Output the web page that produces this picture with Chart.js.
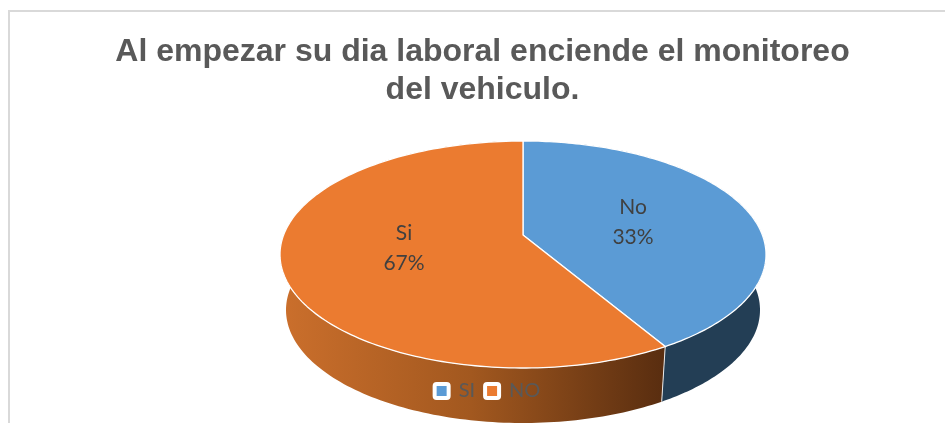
<!DOCTYPE html>
<html>
<head>
<meta charset="utf-8">
<script src="https://cdn.jsdelivr.net/npm/chart.js@4"></script>
<style>
html,body{margin:0;padding:0;background:#fff;overflow:hidden}
#frame{position:absolute;left:8px;top:10px;right:-4px;bottom:-4px;border:2px solid #d9d9d9;box-sizing:border-box}
#wrap{position:absolute;left:0;top:0;width:945px;height:423px}
</style>
</head>
<body>
<div id="frame"></div>
<div id="wrap"><canvas id="c" width="945" height="423"></canvas></div>
<script>
const titleLines = ['Al empezar su dia laboral enciende el monitoreo', 'del vehiculo.'];
const legendLabels = ['SI', 'NO'];
const sliceNames = ['No', 'Si'];
const sliceValues = [33, 67];
const sliceColors = ['#5B9BD5', '#EB7B30'];

// Perspective view of the pie (top ellipse, bottom ellipse, apex, rim foreshortening)
const top3d = {cx: 523, cy: 254.5, rx: 243, ry: 113.5, ax: 523, ay: 235, s: 1.83};
const low3d = {cx: 523, cy: 310, rx: 237, ry: 113};
const labelAt = [[633, 222], [404, 248]];

const rimAngle = a => {
  const t = (a + Math.PI / 2) / 2;
  return 2 * Math.atan2(top3d.s * Math.sin(t), Math.cos(t));
};
const rimPoint = (e, phi) => [e.cx + e.rx * Math.sin(phi), e.cy - e.ry * Math.cos(phi)];

Chart.ArcElement.prototype.draw = function (ctx) {
  const a0 = rimAngle(this.startAngle), a1 = rimAngle(this.endAngle);
  ctx.save();
  ctx.beginPath();
  ctx.moveTo(top3d.ax, top3d.ay);
  for (let i = 0; i <= 160; i++) {
    const p = rimPoint(top3d, a0 + (a1 - a0) * i / 160);
    ctx.lineTo(p[0], p[1]);
  }
  ctx.closePath();
  ctx.fillStyle = this.options.backgroundColor;
  ctx.fill();
  ctx.lineJoin = 'round';
  ctx.lineWidth = 1.3;
  ctx.strokeStyle = '#ffffff';
  ctx.stroke();
  ctx.restore();
};

const pie3d = {
  id: 'pie3d',
  afterLayout(chart) {
    chart.legend.left += 5;
    chart.legend.right += 5;
  },
  beforeDatasetsDraw(chart) {
    const ctx = chart.ctx;
    const arcs = chart.getDatasetMeta(0).data;
    const fills = [
      () => '#233E55',
      () => {
        const g = ctx.createLinearGradient(281, 0, 661, 0);
        g.addColorStop(0, '#CB6F2C');
        g.addColorStop(0.5, '#A2581F');
        g.addColorStop(1, '#5A2E10');
        return g;
      }
    ];
    arcs.forEach((arc, k) => {
      const a0 = rimAngle(arc.startAngle), a1 = rimAngle(arc.endAngle);
      ctx.beginPath();
      for (let i = 0; i <= 160; i++) {
        const p = rimPoint(top3d, a0 + (a1 - a0) * i / 160);
        ctx[i ? 'lineTo' : 'moveTo'](p[0], p[1]);
      }
      for (let i = 160; i >= 0; i--) {
        const p = rimPoint(low3d, a0 + (a1 - a0) * i / 160);
        ctx.lineTo(p[0], p[1]);
      }
      ctx.closePath();
      ctx.fillStyle = fills[k]();
      ctx.fill();
    });
    const phi = rimAngle(arcs[0].endAngle);
    const u = rimPoint(top3d, phi), l = rimPoint(low3d, phi);
    ctx.beginPath();
    ctx.moveTo(u[0], u[1]);
    ctx.lineTo(l[0], l[1]);
    ctx.strokeStyle = '#e8e8e8';
    ctx.lineWidth = 1;
    ctx.stroke();
  },
  afterDatasetsDraw(chart) {
    const ctx = chart.ctx;
    const total = sliceValues.reduce((a, b) => a + b, 0);
    ctx.save();
    ctx.font = '21px Lato';
    ctx.fillStyle = '#404040';
    ctx.textAlign = 'center';
    ctx.textBaseline = 'middle';
    sliceNames.forEach((n, i) => {
      ctx.fillText(n, labelAt[i][0], labelAt[i][1] - 15);
      ctx.fillText(Math.round(sliceValues[i] / total * 100) + '%', labelAt[i][0], labelAt[i][1] + 15);
    });
    ctx.restore();
    chart.legend.draw();
  }
};

new Chart(document.getElementById('c'), {
  type: 'pie',
  data: {
    labels: legendLabels,
    datasets: [{data: sliceValues, backgroundColor: sliceColors, borderWidth: 0}]
  },
  plugins: [pie3d],
  options: {
    responsive: false,
    animation: false,
    layout: {padding: {left: 20, right: 0, top: 22, bottom: 12}},
    plugins: {
      tooltip: {enabled: false},
      title: {
        display: true,
        text: titleLines,
        color: '#595959',
        font: {family: '"Liberation Sans"', size: 32, weight: 'bold', lineHeight: 1.16},
        padding: {top: 12, bottom: 0}
      },
      legend: {
        position: 'bottom',
        labels: {
          font: {family: 'Lato', size: 20},
          color: '#595959',
          boxWidth: 14,
          boxHeight: 14,
          padding: 10,
          useBorderRadius: true,
          borderRadius: 2,
          generateLabels: () => legendLabels.map((t, i) => ({
            text: t, fillStyle: sliceColors[i], strokeStyle: '#ffffff',
            lineWidth: 4, borderRadius: 2, hidden: false, index: i, fontColor: '#595959'
          }))
        }
      }
    }
  }
});
</script>
</body>
</html>
